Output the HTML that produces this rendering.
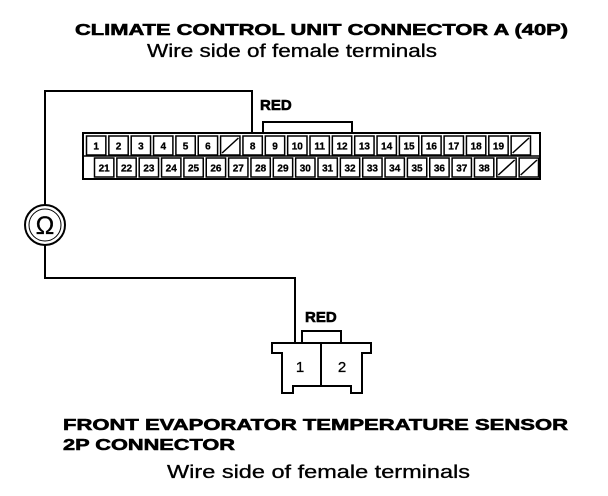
<!DOCTYPE html>
<html><head><meta charset="utf-8"><style>
html,body{margin:0;padding:0;background:#fff;width:608px;height:496px;overflow:hidden}
svg{display:block}
text{font-family:"Liberation Sans",sans-serif;fill:#000}
.b{font-weight:bold;stroke:#000;stroke-width:0.6}
.r{stroke:#000;stroke-width:0.3}
.n{font-size:10px;font-weight:bold;text-anchor:middle;stroke:#000;stroke-width:0.3}
</style></head><body>
<svg width="608" height="496" viewBox="0 0 608 496" xmlns="http://www.w3.org/2000/svg">
<text class="b" x="75" y="35" font-size="16" textLength="493" lengthAdjust="spacingAndGlyphs">CLIMATE CONTROL UNIT CONNECTOR A (40P)</text>
<text class="r" x="147" y="57" font-size="18" textLength="290" lengthAdjust="spacingAndGlyphs">Wire side of female terminals</text>

<g fill="none" stroke="#000" stroke-width="2">
<polyline points="252,133 252,91 45,91 45,205"/>
<polyline points="45,245 45,278 295,278 295,343"/>
</g>
<g>
<circle cx="45" cy="225" r="20" fill="#fff" stroke="#000" stroke-width="2"/>
<circle cx="45" cy="225" r="16" fill="none" stroke="#000" stroke-width="1"/>
<text class="r" x="45" y="234" font-size="25" text-anchor="middle">Ω</text>
</g>

<text class="b" x="260" y="110" font-size="15">RED</text>
<rect x="263" y="122" width="89" height="11" fill="#fff" stroke="#000" stroke-width="2"/>
<g id="conn">
<rect x="83" y="133" width="457" height="46" fill="#fff" stroke="#000" stroke-width="2"/>
<line x1="83" y1="156" x2="540" y2="156" stroke="#000" stroke-width="1.5"/>
</g>

<g>
<text class="b" x="305" y="322" font-size="15">RED</text>
<rect x="302" y="331" width="39" height="12" fill="#fff" stroke="#000" stroke-width="2"/>
<path d="M272,343 H371 V353 H362 V393 H351 V386 H293 V393 H282 V353 H272 Z" fill="#fff" stroke="#000" stroke-width="2"/>
<line x1="321" y1="343" x2="321" y2="386" stroke="#000" stroke-width="2"/>
<text class="r" x="300" y="372" font-size="15" text-anchor="middle">1</text>
<text class="r" x="342" y="372" font-size="15" text-anchor="middle">2</text>
</g>

<text class="b" x="63" y="430" font-size="16" textLength="505" lengthAdjust="spacingAndGlyphs">FRONT EVAPORATOR TEMPERATURE SENSOR</text>
<text class="b" x="63" y="450" font-size="16" textLength="172" lengthAdjust="spacingAndGlyphs">2P CONNECTOR</text>
<text class="r" x="167" y="478" font-size="18" textLength="303" lengthAdjust="spacingAndGlyphs">Wire side of female terminals</text>
</svg>
<script>
const row1 = ['1','2','3','4','5','6','/','8','9','10','11','12','13','14','15','16','17','18','19','/'];
const row2 = ['21','22','23','24','25','26','27','28','29','30','31','32','33','34','35','36','37','38','/','/'];
const ns='http://www.w3.org/2000/svg';
const g=document.getElementById('conn');
function drawRow(labels,x0,w,y,h){
  labels.forEach((l,i)=>{
    const x=x0+i*w;
    const r=document.createElementNS(ns,'rect');
    r.setAttribute('x',x+1.5);r.setAttribute('y',y);r.setAttribute('width',w-3);r.setAttribute('height',h);
    r.setAttribute('fill','#fff');r.setAttribute('stroke','#000');r.setAttribute('stroke-width','1.5');
    
    
    g.appendChild(r);
    if(l==='/'){
      const ln=document.createElementNS(ns,'line');
      ln.setAttribute('x1',x+3);ln.setAttribute('y1',y+h-2);ln.setAttribute('x2',x+w-3);ln.setAttribute('y2',y+2);
      ln.setAttribute('stroke','#000');ln.setAttribute('stroke-width','1.5');
      
      
      g.appendChild(ln);
    } else {
      const t=document.createElementNS(ns,'text');
      t.setAttribute('x',x+w/2);t.setAttribute('y',y+h/2+4);t.setAttribute('class','n');
      t.textContent=l;
      
      
      g.appendChild(t);
    }
  });
}
drawRow(row1,85,22.35,136,19);
drawRow(row2,93,22.35,158,19);
</script>
</body></html>
